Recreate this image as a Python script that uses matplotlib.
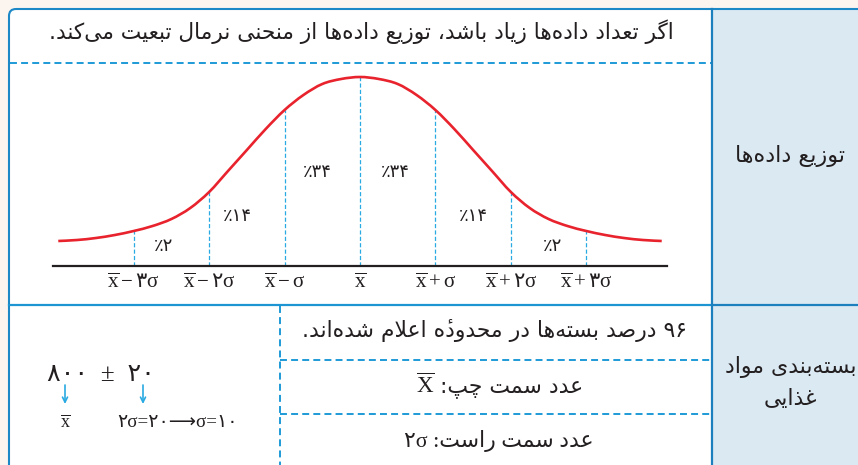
import matplotlib
matplotlib.use("Agg")
import matplotlib.pyplot as plt
from matplotlib.patches import FancyBboxPatch, Rectangle, PathPatch
from matplotlib.path import Path
import numpy as np

plt.rcParams["lines.scale_dashes"] = False
plt.rcParams["mathtext.fontset"] = "custom"
plt.rcParams["mathtext.rm"] = "Liberation Serif"
plt.rcParams["mathtext.it"] = "Liberation Serif:italic"
plt.rcParams["mathtext.sf"] = "DejaVu Sans"

# normal curve: x in sigma units, height in px above the axis
curve_x = np.linspace(-4, 4, 33)
curve_h = [25, 26, 28, 31, 35, 40, 47, 58, 74, 95, 116, 137, 156, 171, 182, 187, 189,
           187, 182, 171, 156, 137, 116, 95, 74, 58, 47, 40, 35, 31, 28, 26, 25]

XBAR = r"\overline{\mathrm{x}}"
tick_pos = [-3, -2, -1, 0, 1, 2, 3]
tick_labels = [rf"${XBAR}-\mathsf{{۳}}\mathrm{{σ}}$", rf"${XBAR}-\mathsf{{۲}}\mathrm{{σ}}$",
               rf"${XBAR}-\mathrm{{σ}}$", rf"${XBAR}$", rf"${XBAR}+\mathrm{{σ}}$",
               rf"${XBAR}+\mathsf{{۲}}\mathrm{{σ}}$", rf"${XBAR}+\mathsf{{۳}}\mathrm{{σ}}$"]
pct_labels = ["٪۲", "٪۱۴", "٪۳۴", "٪۳۴", "٪۱۴", "٪۲"]
pct_pos = [-2.6, -1.63, -0.57, 0.47, 1.5, 2.55]
pct_h = [15, 45, 89, 89, 45, 15]

title_text = "اگر تعداد داده‌ها زیاد باشد، توزیع داده‌ها از منحنی نرمال تبعیت می‌کند."
row1_label = "توزیع داده‌ها"
row2_label = ["بسته‌بندی مواد", "غذایی"]
row2_lines = ["۹۶ درصد بسته‌ها در محدوده\u0654 اعلام شده‌اند.", "عدد سمت چپ:", "عدد سمت راست:"]
left_value = r"$\overline{\mathrm{X}}$"
right_value = "۲σ "
example_top = "۸۰۰  ±  ۲۰"
example_bottom = [r"$\overline{\mathrm{x}}$", "۲σ=۲۰⟶σ=۱۰"]

# --- small Persian shaper (matplotlib has no complex text layout) ---
DUAL = {"ب": 0xFE8F, "ت": 0xFE95, "ث": 0xFE99, "ج": 0xFE9D, "ح": 0xFEA1,
        "خ": 0xFEA5, "س": 0xFEB1, "ش": 0xFEB5, "ص": 0xFEB9, "ض": 0xFEBD,
        "ط": 0xFEC1, "ظ": 0xFEC5, "ع": 0xFEC9, "غ": 0xFECD, "ف": 0xFED1,
        "ق": 0xFED5, "ل": 0xFEDD, "م": 0xFEE1, "ن": 0xFEE5, "ه": 0xFEE9,
        "ئ": 0xFE89, "پ": 0xFB56, "چ": 0xFB7A, "ک": 0xFB8E, "گ": 0xFB92,
        "ی": 0xFBFC}
RIGHT = {"ا": 0xFE8D, "آ": 0xFE81, "د": 0xFEA9, "ذ": 0xFEAB, "ر": 0xFEAD,
         "ز": 0xFEAF, "ژ": 0xFB8A, "و": 0xFEED}


def shape(s):
    out = []
    i, n = 0, len(s)
    while i < n:
        c = s[i]
        if "\u064b" <= c <= "\u065f":
            # combining mark: put it before its base so it follows it once reversed
            out.insert(len(out) - 1, c)
            i += 1
            continue
        if c not in DUAL and c not in RIGHT:
            if c != "\u200c":
                out.append(c)
            i += 1
            continue
        joins_prev = i > 0 and s[i - 1] in DUAL
        if c == "ل" and i + 1 < n and s[i + 1] in "اآ":
            lig = 0xFEFB if s[i + 1] == "ا" else 0xFEF5
            out.append(chr(lig + joins_prev))
            i += 2
            continue
        nxt = s[i + 1] if i + 1 < n else ""
        if c in DUAL:
            joins_next = nxt in DUAL or nxt in RIGHT
            out.append(chr(DUAL[c] + [[0, 2], [1, 3]][joins_prev][joins_next]))
        else:
            out.append(chr(RIGHT[c] + joins_prev))
        i += 1
    return "".join(out)


def fa(s):
    t = shape(s)
    runs = []
    for ch in t:
        ltr = ch.isdigit() or (ch.isalpha() and ord(ch) < 0x600)
        if runs and runs[-1][0] == ltr:
            runs[-1][1] += ch
        else:
            runs.append([ltr, ch])
    return "".join(r if ltr else r[::-1] for ltr, r in reversed(runs))


def smooth_path(x, y):
    # Catmull-Rom through the read points, as cubic Bezier segments
    x = np.asarray(x, float)
    y = np.asarray(y, float)
    n = len(x)
    verts = [(x[0], y[0])]
    codes = [Path.MOVETO]
    for i in range(n - 1):
        a = max(i - 1, 0)
        d = min(i + 2, n - 1)
        verts.append((x[i] + (x[i + 1] - x[a]) / 6, y[i] + (y[i + 1] - y[a]) / 6))
        verts.append((x[i + 1] - (x[d] - x[i]) / 6, y[i + 1] - (y[d] - y[i]) / 6))
        verts.append((x[i + 1], y[i + 1]))
        codes += [Path.CURVE4] * 3
    return Path(verts, codes)


INK = "#231f20"
BLUE = "#1b80bd"
DASH_BLUE = "#1e9ad6"
LIGHT_BLUE = "#2aaae2"
PERSIAN = ["DejaVu Sans"]
MIXED = ["Liberation Serif", "DejaVu Sans"]

fig = plt.figure(figsize=(8.58, 4.65), dpi=100)
fig.patch.set_facecolor("#fcf4ef")
ax = fig.add_axes([0, 0, 1, 1])
ax.set_xlim(0, 858)
ax.set_ylim(465, 0)
ax.axis("off")
renderer = fig.canvas.get_renderer()


def fit(t, width):
    w = t.get_window_extent(renderer).width
    t.set_fontsize(t.get_fontsize() * width / w)
    return t


# table frame
ax.add_patch(FancyBboxPatch((9, 9), 900, 520, boxstyle="round,pad=0,rounding_size=7",
                            facecolor="white", edgecolor="none", zorder=1))
ax.add_patch(Rectangle((712, 9), 200, 520, facecolor="#dbe9f3", edgecolor="none", zorder=2))
ax.add_patch(FancyBboxPatch((9, 9), 900, 520, boxstyle="round,pad=0,rounding_size=7",
                            facecolor="none", edgecolor="#1c88c6", lw=1.5, zorder=5))
ax.plot([712, 712], [9, 470], color=BLUE, lw=1.6, zorder=6)
ax.plot([9, 712], [305, 305], color="#1d95d2", lw=1.6, zorder=5)
ax.plot([712, 858], [305, 305], color=BLUE, lw=1.6, zorder=5)
dash = (0, (5, 3))
ax.plot([10, 711], [63, 63], color=DASH_BLUE, lw=1.4, ls=dash, zorder=4)
ax.plot([280, 280], [306, 470], color=DASH_BLUE, lw=1.4, ls=dash, zorder=4)
ax.plot([280, 711], [360, 360], color=DASH_BLUE, lw=1.4, ls=dash, zorder=4)
ax.plot([280, 711], [414, 414], color=DASH_BLUE, lw=1.4, ls=dash, zorder=4)

# texts
t = ax.text(361, 39, fa(title_text), ha="center", va="baseline", family=PERSIAN,
            color=INK, fontsize=14, zorder=6)
fit(t, 633)
t = ax.text(790, 162, fa(row1_label), ha="center", va="baseline", family=PERSIAN,
            color=INK, fontsize=13, zorder=6)
fit(t, 110)
t = ax.text(791, 373, fa(row2_label[0]), ha="center", va="baseline", family=PERSIAN,
            color=INK, fontsize=13, zorder=6)
fit(t, 132)
ax.text(790, 405, fa(row2_label[1]), ha="center", va="baseline", family=PERSIAN,
        color=INK, fontsize=t.get_fontsize(), zorder=6)

t = ax.text(494, 337, fa(row2_lines[0]), ha="center", va="baseline", family=PERSIAN,
            color=INK, fontsize=13, zorder=6)
fit(t, 385)
size2 = t.get_fontsize()
t = ax.text(583, 393, fa(row2_lines[1]), ha="right", va="baseline", family=PERSIAN,
            color=INK, fontsize=size2, zorder=6)
left_edge = t.get_window_extent(renderer).x0
ax.text(left_edge - 5, 393, left_value, ha="right", va="baseline", color=INK,
        fontsize=size2 * 1.05, zorder=6)
ax.text(499, 447, right_value + fa(row2_lines[2]), ha="center", va="baseline",
        family=MIXED, color=INK, fontsize=size2, zorder=6)

t = ax.text(101, 381, example_top, ha="center", va="baseline", family=MIXED,
            color=INK, fontsize=15, zorder=6)
fit(t, 108)
for x in [65, 143]:
    ax.annotate("", xy=(x, 404), xytext=(x, 385),
                arrowprops=dict(arrowstyle="->", color=LIGHT_BLUE, lw=1.2,
                                shrinkA=0, shrinkB=0, mutation_scale=9), zorder=6)
ax.text(65, 427, example_bottom[0], ha="center", va="baseline",
        color=INK, fontsize=13, zorder=6)
t = ax.text(178, 427, example_bottom[1], ha="center", va="baseline", family=MIXED,
            color=INK, fontsize=12, zorder=6)
fit(t, 120)

# curve panel
cax = fig.add_axes([53 / 858, (465 - 266) / 465, 614 / 858, 206 / 465], zorder=7)
cax.patch.set_visible(False)
cax.set_xlim(-4.07, 4.07)
cax.set_ylim(0, 206)
for side in ["top", "left", "right"]:
    cax.spines[side].set_visible(False)
cax.spines["bottom"].set_linewidth(1.6)
cax.spines["bottom"].set_color(INK)
cax.set_yticks([])
cax.set_xticks([])

cax.add_patch(PathPatch(smooth_path(curve_x, curve_h), facecolor="none",
                        edgecolor="#e8232d", lw=1.9, capstyle="butt", zorder=3))
cax.vlines(tick_pos, 0, np.interp(tick_pos, curve_x, curve_h), color=LIGHT_BLUE,
           lw=0.9, linestyles=(0, (3, 1.6)), zorder=2)

lab = None
for p, s in zip(tick_pos, tick_labels):
    tt = cax.text(p, -22, s, ha="center", va="baseline", color=INK, fontsize=12)
    if lab is None:
        lab = fit(tt, 53)
    else:
        tt.set_fontsize(lab.get_fontsize())

for p, s, h in zip(pct_pos, pct_labels, pct_h):
    cax.text(p, h, s, ha="center", va="baseline", family=PERSIAN, color=INK, fontsize=13)

fig.savefig("out.png", dpi=100)
